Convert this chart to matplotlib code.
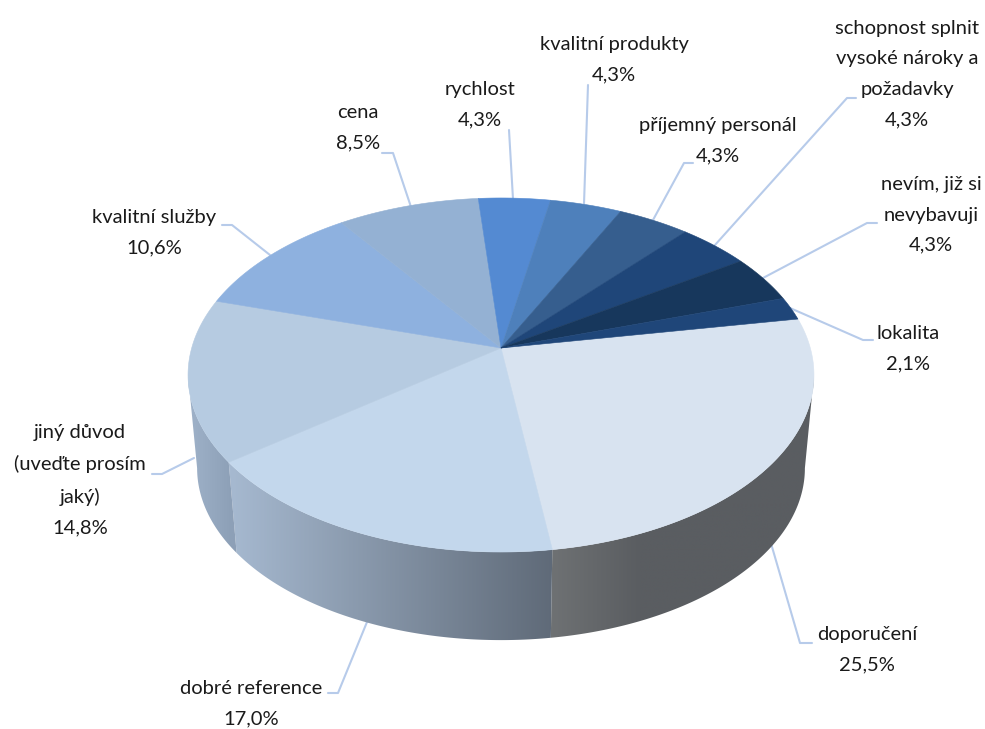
import numpy as np

import matplotlib
matplotlib.use("Agg")
import matplotlib.pyplot as plt
from matplotlib.colors import LinearSegmentedColormap
from matplotlib.patches import Polygon

plt.rcParams["font.family"] = ["Lato", "DejaVu Sans"]

labels = [
    "doporučení",
    "dobré reference",
    "jiný důvod\n(uveďte prosím\njaký)",
    "kvalitní služby",
    "cena",
    "rychlost",
    "kvalitní produkty",
    "příjemný personál",
    "schopnost splnit\nvysoké nároky a\npožadavky",
    "nevím, již si\nnevybavuji",
    "lokalita",
]
values = [25.5, 17.0, 14.8, 10.6, 8.5, 4.3, 4.3, 4.3, 4.3, 4.3, 2.1]

top_colors = ["#d8e3f0", "#c3d7ec", "#b6cbe1", "#8eb1df", "#94b1d3", "#548ad2",
              "#4e80bb", "#365e8e", "#1f4679", "#17375c", "#1f4679"]

# side wall shading of the three front slices: screen x range and end colours
wall_ramps = {
    0: ((553, 640), ("#6e7173", "#5a5d61")),
    1: ((230, 553), ("#a6b9d0", "#5f6a78")),
    2: ((188, 232), ("#9fb2c9", "#8da0b7")),
}

# label centres and leader polylines, in pixels
label_pos = [(867, 650), (251, 704), (80, 480), (154, 233), (358, 128), (480, 105),
             (614, 60), (718, 141), (907, 74), (931, 215), (908, 349)]
leaders = [
    [(770, 540), (800, 643), (812, 643)],
    [(367, 622), (338, 693), (328, 693)],
    [(194, 458), (162, 474), (152, 474)],
    [(270, 255), (232, 225), (222, 225)],
    [(411, 207), (393, 153), (382, 153)],
    [(513, 199), (509, 130)],
    [(584, 204), (588, 85)],
    [(653, 220), (684, 163), (693, 163)],
    [(715, 245), (847, 98), (856, 98)],
    [(763, 278), (867, 223), (877, 223)],
    [(790, 308), (863, 340), (873, 340)],
]

START_ANGLE = 9.9
K = 0.1525  # perspective strength


def project(theta, cx, cy, scale):
    # circle point -> screen, simple perspective tilt
    u, v = np.cos(theta), np.sin(theta)
    d = 1 + K * v
    return cx + scale * 309.3 * u / d, cy - scale * 172.9 * v / d


def top_rim(theta):
    return project(theta, 501, 348, 1.0)


def bottom_rim(theta):
    return project(theta, 501, 442, 0.971)


fig = plt.figure(figsize=(9.85, 7.29), dpi=100)
ax = fig.add_axes([0, 0, 1, 1])

for pts in leaders:
    xs, ys = zip(*pts)
    ax.plot(xs, ys, color="#b7cbea", lw=1.5, zorder=1, solid_capstyle="round")

fractions = np.array(values) / sum(values)
edges = np.deg2rad(START_ANGLE) - 2 * np.pi * np.concatenate([[0], np.cumsum(fractions)])

# angles where the disk is widest, the wall silhouette runs between them
right_limit = -np.arcsin(K)
left_limit = -np.pi + np.arcsin(K)

# walls first, the top disk covers whatever is behind
for i, (x_range, ends) in wall_ramps.items():
    th = np.linspace(min(edges[i], right_limit), max(edges[i + 1], left_limit), 240)
    tx, ty = top_rim(th)
    bx, by = bottom_rim(th)
    outline = np.column_stack([np.r_[tx, bx[::-1]], np.r_[ty, by[::-1]]])
    patch = Polygon(outline, closed=True, facecolor="none", edgecolor="none")
    ax.add_patch(patch)
    # horizontal gradient, clipped to the wall; flat colour past the ramp ends
    cmap = LinearSegmentedColormap.from_list(f"wall{i}", ends)
    xg = np.arange(outline[:, 0].min() - 2, outline[:, 0].max() + 3)
    grad = np.clip((xg - x_range[0]) / (x_range[1] - x_range[0]), 0, 1)[None, :]
    im = ax.imshow(grad, cmap=cmap, vmin=0, vmax=1, aspect="auto", zorder=2,
                   interpolation="bilinear",
                   extent=(xg[0], xg[-1], outline[:, 1].max() + 2, outline[:, 1].min() - 2))
    im.set_clip_path(patch)

for i, color in enumerate(top_colors):
    th = np.linspace(edges[i], edges[i + 1], 120)
    rx, ry = top_rim(th)
    poly = np.column_stack([np.r_[501, rx], np.r_[348, ry]])
    ax.fill(poly[:, 0], poly[:, 1], facecolor=color, edgecolor=color, lw=0.4, zorder=3)

for name, val, (x, y) in zip(labels, values, label_pos):
    pct = f"{val:.1f}".replace(".", ",") + "%"
    ax.text(x, y, f"{name}\n{pct}", ha="center", va="center", fontsize=14.5,
            color="#1a1a1a", linespacing=1.95, zorder=4)

ax.set_xlim(0, 985)
ax.set_ylim(729, 0)
ax.axis("off")

fig.savefig("out.png", dpi=100, facecolor="white")
